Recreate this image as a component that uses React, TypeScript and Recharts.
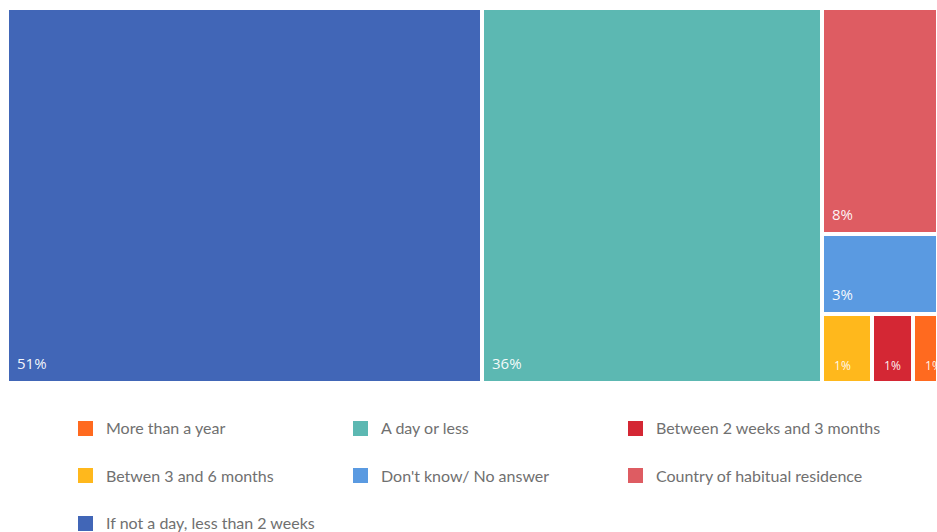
import React from 'react';
import { Treemap } from 'recharts';

const categories = [
  'If not a day, less than 2 weeks',
  'A day or less',
  'Country of habitual residence',
  "Don't know/ No answer",
  'Betwen 3 and 6 months',
  'Between 2 weeks and 3 months',
  'More than a year',
];
const shares = [51.0, 36.45, 7.5, 2.65, 0.98, 0.8, 0.55];
const colors = ['#4166B7', '#5CB8B2', '#DE5C62', '#5A9AE1', '#FFB81C', '#D42734', '#FF6A1F'];
const legendOrder = [
  'More than a year',
  'A day or less',
  'Between 2 weeks and 3 months',
  'Betwen 3 and 6 months',
  "Don't know/ No answer",
  'Country of habitual residence',
  'If not a day, less than 2 weeks',
];

const data = categories.map((name, i) => ({ name, value: shares[i] }));

const colorOf = (name: string) => colors[categories.indexOf(name)] || '#ccc';

const Cell = (props: any) => {
  const { x, y, width, height, depth, name, value } = props;
  if (depth !== 1) return null;
  const small = width < 60;
  return (
    <g>
      <rect x={x} y={y} width={width} height={height} fill={colorOf(name)} stroke="#fff" strokeWidth={4} />
      <text
        x={x + (small ? 12 : 10)}
        y={y + height - (small ? 13 : 14)}
        fill="#fff"
        fillOpacity={0.95}
        fontSize={small ? 12 : 15}
        fontFamily="'Open Sans', sans-serif"
      >
        {Math.round(value)}%
      </text>
    </g>
  );
};

export default function App() {
  return (
    <div style={{ position: 'relative', width: 937, height: 532, overflow: 'hidden', fontFamily: 'Lato, sans-serif', background: '#fff' }}>
      <style>{'html,body{margin:0;padding:0;overflow:hidden;}'}</style>
      <div style={{ position: 'absolute', left: 7, top: 8, width: 930, overflow: 'hidden', height: 375 }}>
        <Treemap
          width={931}
          height={375}
          data={data}
          dataKey="value"
          nameKey="name"
          aspectRatio={1.375}
          isAnimationActive={false}
          content={<Cell />}
        />
      </div>
      {legendOrder.map((name, i) => (
        <div
          key={name}
          style={{
            position: 'absolute',
            left: 78 + (i % 3) * 275,
            top: 420 + Math.floor(i / 3) * 47.5,
            height: 16,
            display: 'flex',
            alignItems: 'center',
          }}
        >
          <span style={{ width: 15, height: 15, background: colorOf(name), display: 'inline-block', marginRight: 13, flexShrink: 0 }} />
          <span style={{ fontSize: 16, lineHeight: '16px', color: '#707070', whiteSpace: 'nowrap' }}>{name}</span>
        </div>
      ))}
    </div>
  );
}
